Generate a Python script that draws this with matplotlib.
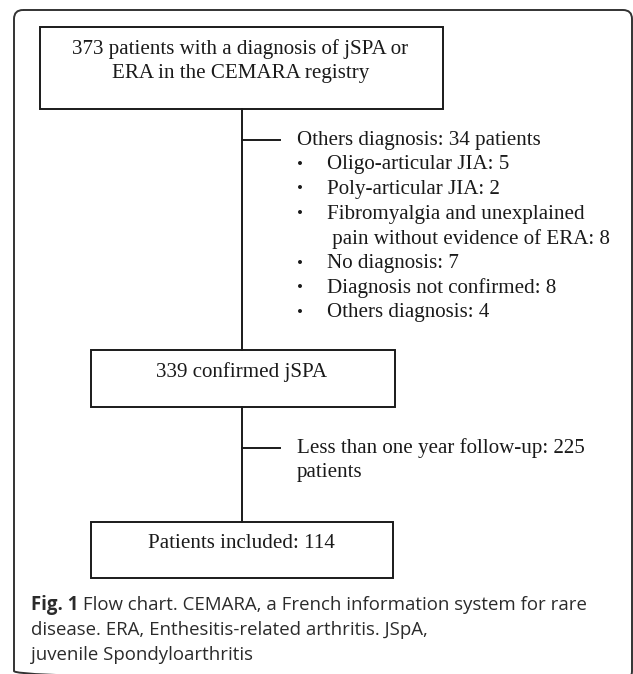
import matplotlib
matplotlib.use("Agg")
import matplotlib.pyplot as plt
from matplotlib.patches import FancyBboxPatch, Rectangle

# flow chart content
BOX_LABELS = [
    ["373 patients with a diagnosis of jSPA or", "ERA in the CEMARA registry"],
    ["339 confirmed jSPA"],
    ["Patients included: 114"],
]
EXCL_HEADERS = [
    ["Others diagnosis: 34 patients"],
    ["Less than one year follow-up: 225", "patients"],
]
EXCL_ITEMS = [
    ["Oligo-articular JIA: 5"],
    ["Poly-articular JIA: 2"],
    ["Fibromyalgia and unexplained", " pain without evidence of ERA: 8"],
    ["No diagnosis: 7"],
    ["Diagnosis not confirmed: 8"],
    ["Others diagnosis: 4"],
]
CAPTION_BOLD = "Fig. 1"
CAPTION = [
    " Flow chart. CEMARA, a French information system for rare",
    "disease. ERA, Enthesitis-related arthritis. JSpA,",
    "juvenile Spondyloarthritis",
]

W, H = 633, 674
SERIF = "Liberation Serif"
SANS = "Open Sans"
FS = 15.1
CAP_FS = 13.4
LINE = 24.7
INK = "#1a1a1a"
CAP_INK = "#2b2b2b"

# box geometry in pixels: (left, top, right, bottom)
BOXES = [(40, 27, 443, 109), (91, 350, 395, 407), (91, 522, 393, 578)]
STEM_X = 242
BRANCH_Y = [140, 448]

fig = plt.figure(figsize=(W / 100, H / 100), dpi=100)
ax = fig.add_axes([0, 0, 1, 1])
ax.set_xlim(0, W)
ax.set_ylim(H, 0)
ax.axis("off")

# outer rounded frame (runs off the right and bottom edges)
frame = FancyBboxPatch((14, 10), 632 - 14, 680 - 10,
                       boxstyle="round,pad=0,rounding_size=9",
                       fill=False, lw=1.4, ec="#333333", clip_on=False)
ax.add_patch(frame)

for (l, t, r, b), lines in zip(BOXES, BOX_LABELS):
    ax.add_patch(Rectangle((l, t), r - l, b - t, fill=False, lw=1.4, ec=INK))
    for i, ln in enumerate(lines):
        ax.text((l + r) / 2 - 1, t + 22 + i * LINE, ln, family=SERIF,
                fontsize=FS, color=INK, ha="center", va="center")

# stems between boxes
ax.plot([STEM_X, STEM_X], [BOXES[0][3], BOXES[1][1]], color=INK, lw=1.4)
ax.plot([STEM_X, STEM_X], [BOXES[1][3], BOXES[2][1]], color=INK, lw=1.4)

# exclusion branches
for by, header in zip(BRANCH_Y, EXCL_HEADERS):
    ax.plot([STEM_X, 280], [by, by], color=INK, lw=1.4)
    for i, ln in enumerate(header):
        ax.text(297, by + i * LINE, ln, family=SERIF, fontsize=FS, color=INK,
                ha="left", va="center")

row = 1
for parts in EXCL_ITEMS:
    y = BRANCH_Y[0] + row * LINE
    ax.text(300, y, "\u2022", family=SERIF, fontsize=FS * 0.8, color=INK,
            ha="center", va="center")
    for i, p in enumerate(parts):
        ax.text(327, y + i * LINE, p, family=SERIF, fontsize=FS, color=INK,
                ha="left", va="center")
    row += len(parts)

# caption
cap_y = [605, 630, 655]
t0 = ax.text(31, cap_y[0], CAPTION_BOLD, family=SANS, fontsize=CAP_FS,
             fontweight="bold", color=CAP_INK, ha="left", va="center")
fig.canvas.draw()
bb = t0.get_window_extent()
x_after = ax.transData.inverted().transform((bb.x1, bb.y0))[0]
ax.text(x_after, cap_y[0], CAPTION[0], family=SANS, fontsize=CAP_FS,
        color=CAP_INK, ha="left", va="center")
for y, ln in zip(cap_y[1:], CAPTION[1:]):
    ax.text(31, y, ln, family=SANS, fontsize=CAP_FS, color=CAP_INK,
            ha="left", va="center")

fig.savefig("out.png", dpi=100)
